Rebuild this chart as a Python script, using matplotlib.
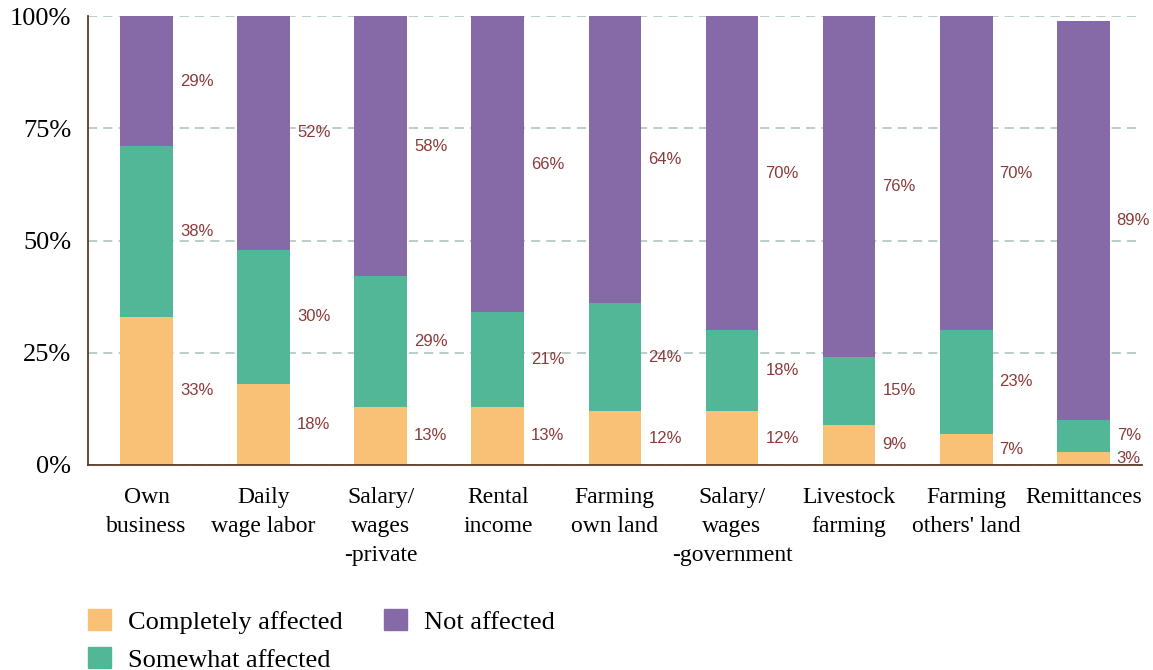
import numpy as np
import matplotlib
matplotlib.use("Agg")
import matplotlib.pyplot as plt
from matplotlib.patches import Patch

categories = ["Own\nbusiness", "Daily\nwage labor", "Salary/\nwages\n-private",
              "Rental\nincome", "Farming\nown land", "Salary/\nwages\n-government",
              "Livestock\nfarming", "Farming\nothers' land", "Remittances"]
completely = [33, 18, 13, 13, 12, 12, 9, 7, 3]
somewhat = [38, 30, 29, 21, 24, 18, 15, 23, 7]
not_affected = [29, 52, 58, 66, 64, 70, 76, 70, 89]
series_names = ["Completely affected", "Somewhat affected", "Not affected"]
colors = ["#F9C176", "#52B796", "#8669A7"]

fig = plt.figure(figsize=(11.53, 6.7), dpi=100)
ax = fig.add_axes([0.0763, 0.306, 0.914, 0.670])

x = np.arange(len(categories))
width = 0.45
bottom = np.zeros(len(categories))
for vals, col in zip([completely, somewhat, not_affected], colors):
    vals = np.array(vals, dtype=float)
    ax.bar(x, vals, width, bottom=bottom, color=col, zorder=3)
    for xi, b, v in zip(x, bottom, vals):
        ax.text(xi + width / 2 + 0.06, b + v / 2, f"{int(v)}%", color="#8B3A3A",
                fontsize=12, family="Liberation Sans", ha="left", va="center")
    bottom += vals

ax.set_xlim(-0.5, len(categories) - 0.5)
ax.set_ylim(0, 100)
ax.set_yticks([0, 25, 50, 75, 100])
ax.set_yticklabels(["0%", "25%", "50%", "75%", "100%"],
                   family="Liberation Serif", fontsize=19, va="center_baseline")
ax.set_xticks(x)
ax.set_xticklabels(categories, family="Liberation Serif", fontsize=17,
                   linespacing=1.5, va="top")
ax.tick_params(axis="both", length=0)
ax.tick_params(axis="y", pad=12)
ax.tick_params(axis="x", pad=16)
ax.yaxis.grid(True, ls=(0, (6, 4)), color="#A9BFB8", lw=1.1, zorder=0)
for s in ["top", "right"]:
    ax.spines[s].set_visible(False)
for s in ["left", "bottom"]:
    ax.spines[s].set_color("#5B3A29")
    ax.spines[s].set_linewidth(1.3)
    ax.spines[s].set_zorder(4)

handles = [Patch(color=c) for c in colors]
fig.legend(handles, series_names, loc="upper left",
           bbox_to_anchor=(88 / 1153, 1 - 609 / 670), borderpad=0, borderaxespad=0,
           ncol=2, frameon=False, prop={"family": "Liberation Serif", "size": 19},
           handlelength=0.87, handleheight=0.87, handletextpad=0.65,
           columnspacing=1.55, labelspacing=0.5)

fig.savefig("out.png", dpi=100)
